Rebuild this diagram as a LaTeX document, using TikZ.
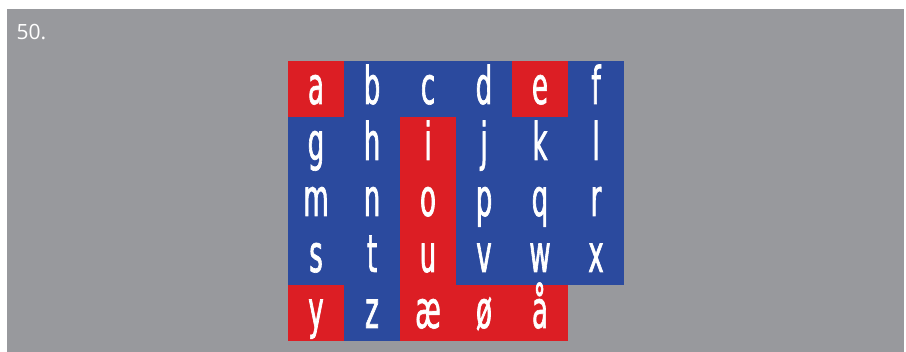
\documentclass[tikz,border=0pt]{standalone}
\usepackage{fontspec}
\newfontfamily\cellfont[FakeStretch=0.5,FakeBold=1.2]{DejaVu Sans}
\newfontfamily\numfont{Open Sans}
\definecolor{pagegray}{RGB}{152,153,157}
\definecolor{cellblue}{RGB}{43,74,158}
\definecolor{cellred}{RGB}{220,30,36}
\tikzset{
  cell/.style={minimum width=56pt,minimum height=56pt,inner sep=0pt,
    text height=35pt,text depth=5pt,text=white,font=\fontsize{52}{52}\selectfont\cellfont},
  bluecell/.style={cell,fill=cellblue},
  redcell/.style={cell,fill=cellred}
}
\begin{document}
\begin{tikzpicture}[x=1pt,y=-1pt]
\useasboundingbox[fill=white] (0,0) rectangle (906,352);
\fill[pagegray] (7,9) rectangle (904,352);
\node[anchor=base west,text=white,font=\fontsize{21}{21}\selectfont\numfont] (num) at (13,40) {50.};
% row 1
\node[redcell] (a) at (316,89) {a};
\node[bluecell] (b) at (372,89) {b};
\node[bluecell] (c) at (428,89) {c};
\node[bluecell] (d) at (484,89) {d};
\node[redcell] (e) at (540,89) {e};
\node[bluecell] (f) at (596,89) {f};
% row 2
\node[bluecell] (g) at (316,145) {g};
\node[bluecell] (h) at (372,145) {h};
\node[redcell] (i) at (428,145) {i};
\node[bluecell] (j) at (484,145) {j};
\node[bluecell] (k) at (540,145) {k};
\node[bluecell] (l) at (596,145) {l};
% row 3
\node[bluecell] (m) at (316,201) {m};
\node[bluecell] (n) at (372,201) {n};
\node[redcell] (o) at (428,201) {o};
\node[bluecell] (p) at (484,201) {p};
\node[bluecell] (q) at (540,201) {q};
\node[bluecell] (r) at (596,201) {r};
% row 4
\node[bluecell] (s) at (316,257) {s};
\node[bluecell] (t) at (372,257) {t};
\node[redcell] (u) at (428,257) {u};
\node[bluecell] (v) at (484,257) {v};
\node[bluecell] (w) at (540,257) {w};
\node[bluecell] (x) at (596,257) {x};
% row 5
\node[redcell] (y) at (316,313) {y};
\node[bluecell] (z) at (372,313) {z};
\node[redcell] (ae) at (428,313) {æ};
\node[redcell] (oe) at (484,313) {ø};
\node[redcell] (aa) at (540,313) {å};
\end{tikzpicture}
\end{document}
